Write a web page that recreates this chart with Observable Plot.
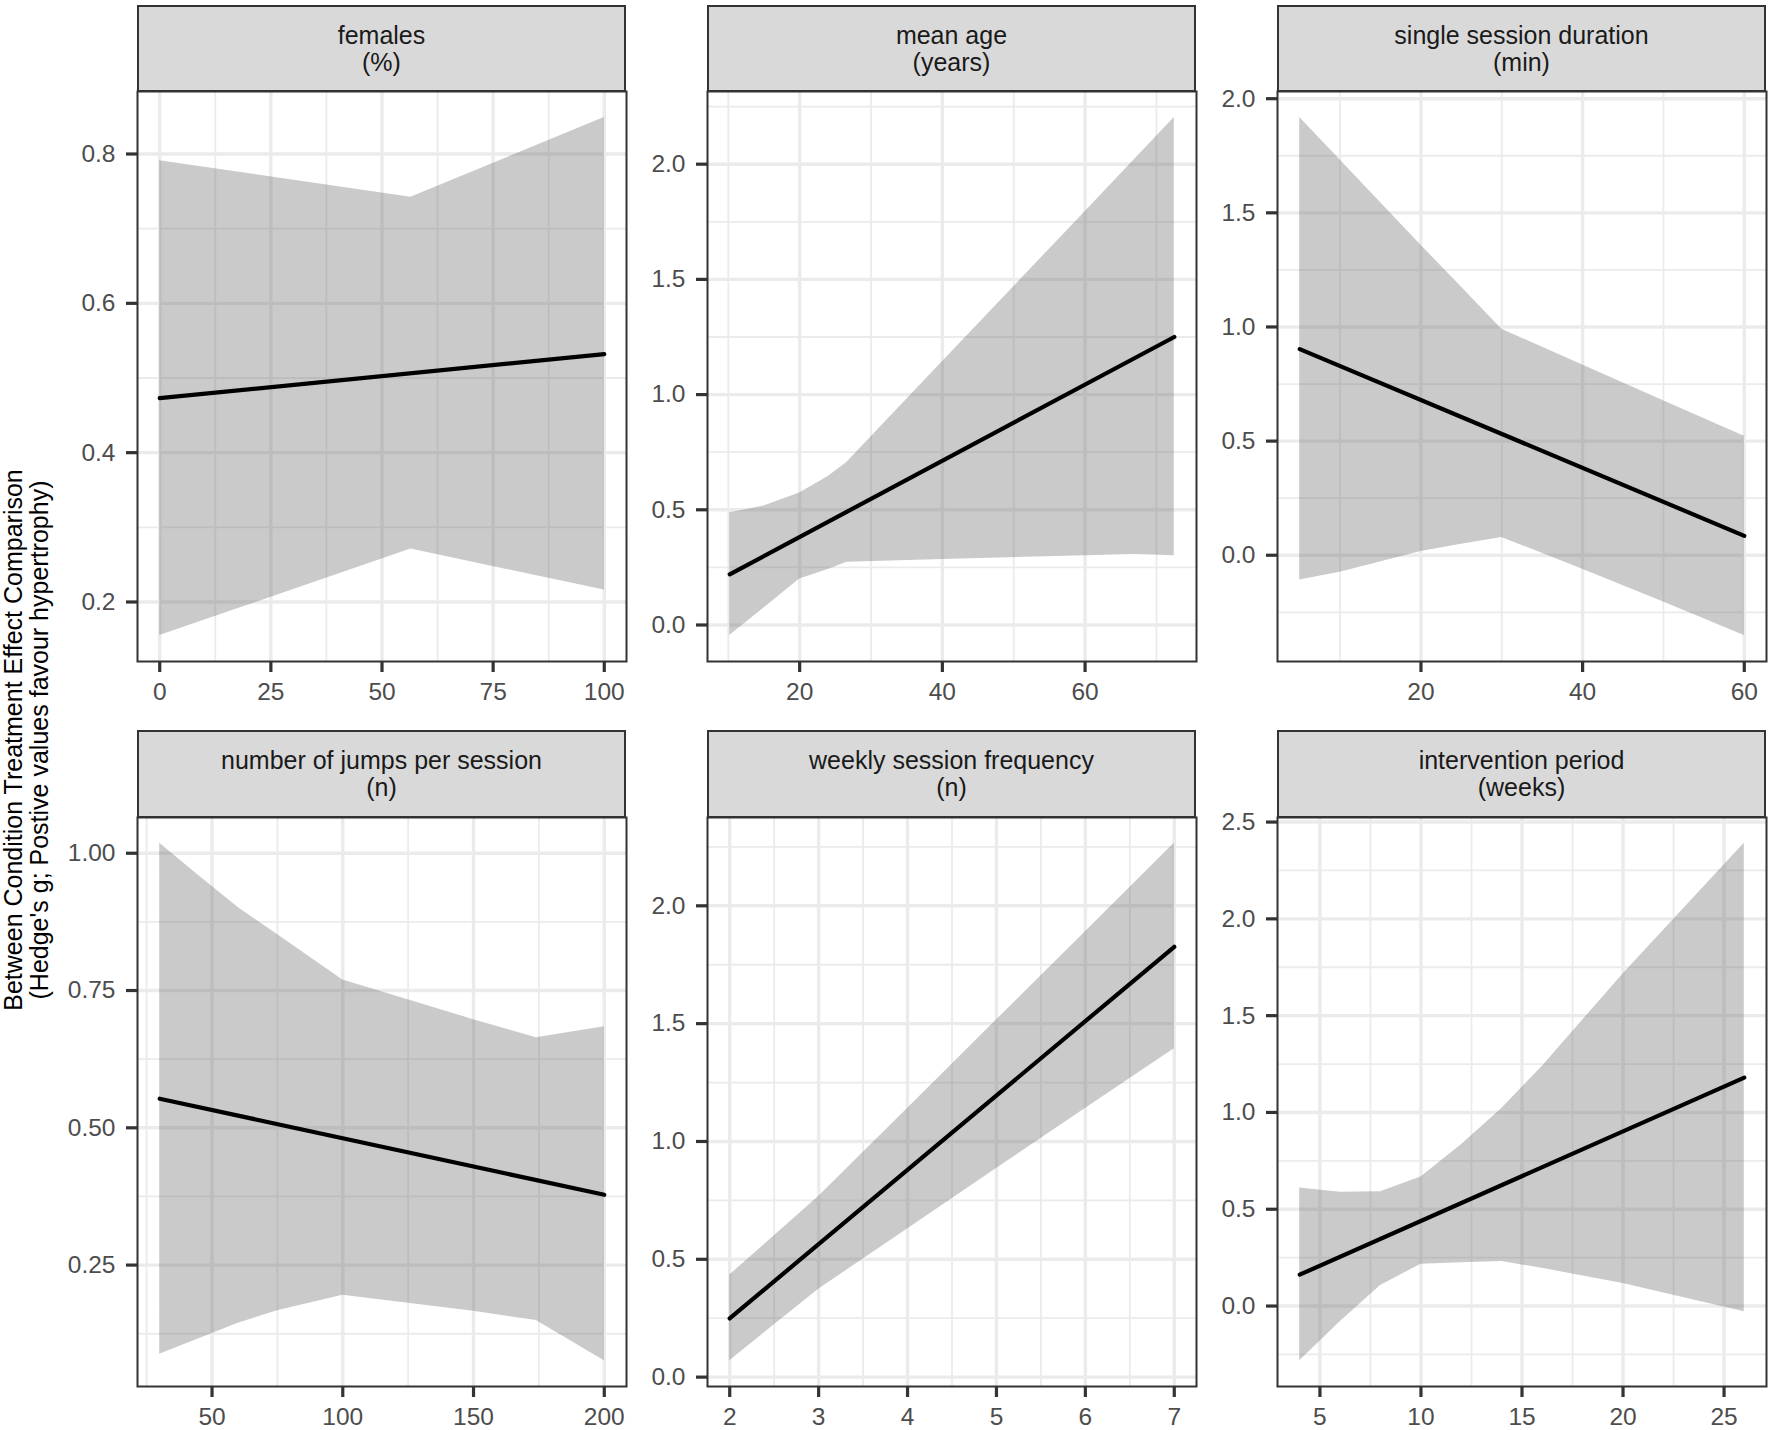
<!DOCTYPE html>
<html>
<head>
<meta charset="utf-8">
<script src="https://cdn.jsdelivr.net/npm/d3@7"></script>
<script src="https://cdn.jsdelivr.net/npm/@observablehq/plot@0.6"></script>
<style>
  html, body { margin: 0; padding: 0; background: #fff; }
  #root { position: relative; width: 1772px; height: 1430px; background: #fff;
          font-family: "Liberation Sans", Arial, Helvetica, sans-serif; overflow: hidden; }
  .strip { position: absolute; box-sizing: border-box; background: #D9D9D9; border: 2px solid #333;
           display: flex; align-items: center; justify-content: center; text-align: center;
           font-size: 25px; line-height: 27px; color: #1A1A1A; }
  .ytitle { position: absolute; width: 900px; height: 54px; left: -423px; top: 713px;
            transform: rotate(-90deg); text-align: center; font-size: 25px; line-height: 26px; color: #000; }
  svg { position: absolute; overflow: visible; }
</style>
</head>
<body>
<div id="root"></div>
<script>
// ---------- data ----------
const panelTitles = ["females", "mean age", "single session duration",
                     "number of jumps per session", "weekly session frequency", "intervention period"];
const panelUnits  = ["(%)", "(years)", "(min)", "(n)", "(n)", "(weeks)"];
const yAxisTitle  = ["Between Condition Treatment Effect Comparison",
                     "(Hedge's g; Postive values favour hypertrophy)"];

// females (%)
const femalesBandX  = [0, 56.5, 100];
const femalesBandLo = [0.155, 0.271, 0.216];
const femalesBandHi = [0.791, 0.742, 0.849];
const femalesLineX  = [0, 100];
const femalesLineY  = [0.473, 0.532];
const femalesXTicks = [0, 25, 50, 75, 100];
const femalesYTicks = [0.2, 0.4, 0.6, 0.8];

// mean age (years)
const ageBandX  = [10.2, 15, 20, 24, 26.6, 40, 60, 67, 72.5];
const ageBandLo = [-0.046, 0.074, 0.2, 0.241, 0.272, 0.284, 0.301, 0.306, 0.301];
const ageBandHi = [0.487, 0.516, 0.573, 0.645, 0.705, 1.142, 1.794, 2.022, 2.203];
const ageLineX  = [10.2, 72.5];
const ageLineY  = [0.22, 1.25];
const ageXTicks = [20, 40, 60];
const ageYTicks = [0, 0.5, 1, 1.5, 2];

// single session duration (min)
const durBandX  = [5, 10, 20, 25, 30, 40, 50, 60];
const durBandLo = [-0.109, -0.075, 0.016, 0.048, 0.078, -0.061, -0.205, -0.352];
const durBandHi = [1.918, 1.731, 1.358, 1.175, 0.99, 0.833, 0.677, 0.521];
const durLineX  = [5, 60];
const durLineY  = [0.903, 0.085];
const durXTicks = [20, 40, 60];
const durYTicks = [0, 0.5, 1, 1.5, 2];

// number of jumps per session (n)
const jumpsBandX  = [30, 45, 60, 75, 100, 150, 174, 200];
const jumpsBandLo = [0.0875, 0.116, 0.144, 0.167, 0.195, 0.166, 0.149, 0.076];
const jumpsBandHi = [1.018, 0.959, 0.901, 0.852, 0.769, 0.697, 0.664, 0.684];
const jumpsLineX  = [30, 200];
const jumpsLineY  = [0.553, 0.378];
const jumpsXTicks = [50, 100, 150, 200];
const jumpsYTicks = [0.25, 0.5, 0.75, 1.0];

// weekly session frequency (n)
const freqBandX  = [2, 3, 4, 5, 6, 7];
const freqBandLo = [0.07, 0.373, 0.629, 0.885, 1.14, 1.393];
const freqBandHi = [0.433, 0.766, 1.14, 1.515, 1.89, 2.265];
const freqLineX  = [2, 7];
const freqLineY  = [0.249, 1.826];
const freqXTicks = [2, 3, 4, 5, 6, 7];
const freqYTicks = [0, 0.5, 1, 1.5, 2];

// intervention period (weeks)
const weeksBandX  = [4, 6, 8, 10, 12, 14, 16, 20, 26];
const weeksBandLo = [-0.282, -0.081, 0.106, 0.216, 0.223, 0.23, 0.195, 0.116, -0.029];
const weeksBandHi = [0.61, 0.588, 0.59, 0.667, 0.833, 1.02, 1.238, 1.715, 2.39];
const weeksLineX  = [4, 26];
const weeksLineY  = [0.162, 1.18];
const weeksXTicks = [5, 10, 15, 20, 25];
const weeksYTicks = [0, 0.5, 1, 1.5, 2, 2.5];

// ---------- assemble ----------
const panels = [
  {bx: femalesBandX, lo: femalesBandLo, hi: femalesBandHi, lx: femalesLineX, ly: femalesLineY, xt: femalesXTicks, yt: femalesYTicks, yf: ".1f"},
  {bx: ageBandX, lo: ageBandLo, hi: ageBandHi, lx: ageLineX, ly: ageLineY, xt: ageXTicks, yt: ageYTicks, yf: ".1f"},
  {bx: durBandX, lo: durBandLo, hi: durBandHi, lx: durLineX, ly: durLineY, xt: durXTicks, yt: durYTicks, yf: ".1f"},
  {bx: jumpsBandX, lo: jumpsBandLo, hi: jumpsBandHi, lx: jumpsLineX, ly: jumpsLineY, xt: jumpsXTicks, yt: jumpsYTicks, yf: ".2f"},
  {bx: freqBandX, lo: freqBandLo, hi: freqBandHi, lx: freqLineX, ly: freqLineY, xt: freqXTicks, yt: freqYTicks, yf: ".1f"},
  {bx: weeksBandX, lo: weeksBandLo, hi: weeksBandHi, lx: weeksLineX, ly: weeksLineY, xt: weeksXTicks, yt: weeksYTicks, yf: ".1f"}
];

const root = document.getElementById("root");
const colLeft = [137, 707, 1277];
const bodyW = 489;
const stripTop = [5, 730];
const stripBottom = [91, 817];
const bodyBottom = [661, 1386];
const ML = 130, MR = 6, MT = 3, MB = 60;
const FONT = '"Liberation Sans", Arial, Helvetica, sans-serif';

function expand(lo, hi) { const p = (hi - lo) * 0.05; return [lo - p, hi + p]; }
function minors(ticks, dom) {
  const step = ticks[1] - ticks[0];
  const out = [];
  for (let v = ticks[0] - step / 2; v <= ticks[ticks.length - 1] + step / 2 + 1e-9; v += step) {
    if (v > dom[0] && v < dom[1]) out.push(+v.toFixed(6));
  }
  return out;
}

panels.forEach((p, i) => {
  const r = Math.floor(i / 3), c = i % 3;
  const band = p.bx.map((x, k) => ({x, lo: p.lo[k], hi: p.hi[k]}));
  const line = p.lx.map((x, k) => ({x, y: p.ly[k]}));
  const xd = expand(d3.min(p.bx), d3.max(p.bx));
  const yd = expand(d3.min(p.lo.concat(p.ly)), d3.max(p.hi.concat(p.ly)));
  const bodyH = bodyBottom[r] - stripBottom[r];

  // strip
  const s = document.createElement("div");
  s.className = "strip";
  s.style.left = colLeft[c] + "px";
  s.style.top = stripTop[r] + "px";
  s.style.width = bodyW + "px";
  s.style.height = (stripBottom[r] - stripTop[r] + 1) + "px";
  s.innerHTML = `<div>${panelTitles[i]}<br>${panelUnits[i]}</div>`;
  root.appendChild(s);

  const gridC = "#EBEBEB";
  const chart = Plot.plot({
    width: ML + bodyW + MR,
    height: MT + bodyH + MB,
    marginLeft: ML, marginRight: MR, marginTop: MT, marginBottom: MB,
    style: {fontFamily: FONT, fontSize: "24.5px", background: "transparent", overflow: "visible"},
    x: {domain: xd},
    y: {domain: yd},
    marks: [
      Plot.gridX(minors(p.xt, xd), {stroke: gridC, strokeOpacity: 1, strokeWidth: 1.8}),
      Plot.gridY(minors(p.yt, yd), {stroke: gridC, strokeOpacity: 1, strokeWidth: 1.8}),
      Plot.gridX(p.xt, {stroke: gridC, strokeOpacity: 1, strokeWidth: 3.4}),
      Plot.gridY(p.yt, {stroke: gridC, strokeOpacity: 1, strokeWidth: 3.4}),
      Plot.areaY(band, {x: "x", y1: "lo", y2: "hi", fill: "#666666", fillOpacity: 0.35}),
      Plot.line(line, {x: "x", y: "y", stroke: "#000", strokeWidth: 4.2}),
      Plot.frame({stroke: "#333", strokeWidth: 2}),
      Plot.axisX({ticks: p.xt, tickSize: 11, tickPadding: 10, stroke: "#333", strokeWidth: 3.2,
                  fill: "#4D4D4D", fontSize: 24.5, label: null, tickFormat: d3.format("d")}),
      Plot.axisY({ticks: p.yt, tickSize: 11, tickPadding: 11, stroke: "#333", strokeWidth: 3.2,
                  fill: "#4D4D4D", fontSize: 24.5, label: null, tickFormat: d3.format(p.yf)})
    ]
  });
  chart.style.left = (colLeft[c] - ML) + "px";
  chart.style.top = (stripBottom[r] - MT) + "px";
  root.appendChild(chart);
});

const t = document.createElement("div");
t.className = "ytitle";
t.innerHTML = yAxisTitle.join("<br>");
root.appendChild(t);
</script>
</body>
</html>
